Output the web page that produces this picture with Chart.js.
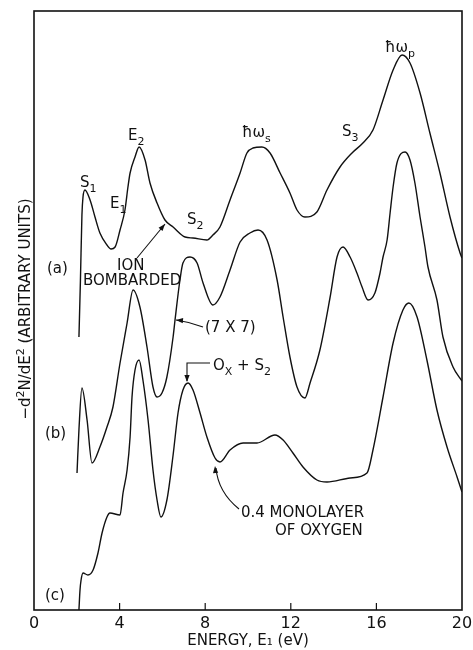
<!DOCTYPE html>
<html>
<head>
<meta charset="utf-8">
<script src="https://cdn.jsdelivr.net/npm/chart.js@4"></script>
<style>
	html, body { margin: 0; padding: 0; background: #fff; }
	#graphSection { position: relative; width: 473px; height: 650px; }
</style>
</head>
<body>
<div id="graphSection"><canvas id="spectraGraph"></canvas></div>
<script>

// energy (eV) and curve height (arbitrary units)
var energyA = [2.10, 2.17, 2.24, 2.29, 2.38, 2.62, 2.85, 3.08, 3.41, 3.60, 3.79, 4.02, 4.25, 4.39, 4.49, 4.72, 4.91, 5.19, 5.42, 5.75, 6.12, 6.50, 7.06, 7.43, 8.08, 8.36, 8.69, 9.16, 9.63, 9.95, 10.23, 10.65, 11.03, 11.50, 11.96, 12.29, 12.66, 13.22, 13.69, 14.30, 14.86, 15.37, 15.84, 16.31, 16.78, 17.20, 17.57, 18.04, 18.50, 18.97, 19.44, 19.91, 20.0];
var valueA  = [273, 330, 395, 413, 420, 410, 393, 377, 365, 361, 363, 380, 400, 423, 437, 453, 463, 450, 427, 407, 390, 383, 373, 372, 370, 375, 383, 410, 437, 457, 462, 463, 457, 437, 417, 400, 393, 398, 420, 443, 457, 467, 480, 510, 540, 555, 547, 517, 477, 437, 393, 357, 352];

var energyB = [2.01, 2.10, 2.24, 2.48, 2.71, 3.08, 3.41, 3.69, 4.02, 4.35, 4.63, 4.95, 5.28, 5.56, 5.75, 5.98, 6.21, 6.50, 6.59, 6.82, 6.96, 7.29, 7.62, 7.90, 8.36, 8.69, 9.16, 9.63, 10.09, 10.47, 10.89, 11.36, 11.64, 11.96, 12.29, 12.66, 12.90, 13.36, 13.83, 14.16, 14.44, 14.77, 15.09, 15.33, 15.61, 15.93, 16.17, 16.31, 16.50, 16.64, 16.78, 16.96, 17.34, 17.57, 17.80, 18.04, 18.27, 18.41, 18.83, 19.11, 19.58, 20.0];
var valueB  = [137, 180, 222, 190, 147, 163, 183, 203, 247, 287, 320, 303, 263, 223, 213, 217, 233, 273, 290, 330, 347, 353, 347, 327, 305, 313, 340, 368, 377, 380, 370, 330, 293, 253, 223, 212, 227, 260, 312, 353, 363, 353, 337, 323, 310, 317, 337, 353, 370, 397, 423, 447, 458, 450, 427, 393, 363, 343, 310, 273, 243, 229];

var energyC = [2.10, 2.15, 2.20, 2.29, 2.52, 2.76, 2.99, 3.18, 3.41, 3.55, 4.02, 4.16, 4.35, 4.49, 4.58, 4.72, 4.91, 5.09, 5.33, 5.56, 5.75, 5.93, 6.21, 6.50, 6.73, 6.96, 7.20, 7.43, 7.76, 8.08, 8.46, 8.69, 9.16, 9.77, 10.42, 11.26, 11.64, 12.10, 12.57, 13.22, 13.69, 14.77, 15.56, 15.84, 16.31, 16.78, 17.24, 17.52, 17.90, 18.36, 18.83, 19.30, 19.77, 20.0];
var valueC  = [0, 20, 30, 37, 35, 40, 57, 77, 93, 97, 95, 117, 140, 173, 213, 240, 250, 230, 190, 140, 110, 93, 110, 155, 197, 220, 227, 220, 197, 173, 152, 148, 160, 167, 167, 175, 170, 157, 143, 130, 128, 132, 137, 160, 213, 267, 300, 307, 293, 250, 200, 163, 133, 118];

var energyTicks = [0, 4, 8, 12, 16, 20];

var FONT = "'DejaVu Sans', sans-serif";
var INK = "#111";

var toPoints = function(xs, ys) {
	var pts = [];
	for (var i = 0; i < xs.length; i++) {
		pts.push({ x: xs[i], y: ys[i] });
	}
	return pts;
};

// text with sub/superscript parts: [["S"], ["1", "sub"]]
var drawRich = function(ctx, x, y, parts, size) {
	for (var i = 0; i < parts.length; i++) {
		var txt = parts[i][0];
		var kind = parts[i][1] || "n";
		var fs = kind === "n" ? size : Math.round(size * 0.75);
		var dy = kind === "sub" ? size * 0.32 : (kind === "sup" ? -size * 0.4 : 0);
		ctx.font = fs + "px " + FONT;
		ctx.fillText(txt, x, y + dy);
		x += ctx.measureText(txt).width;
	}
	return x;
};

var richWidth = function(ctx, parts, size) {
	var w = 0;
	for (var i = 0; i < parts.length; i++) {
		var fs = (parts[i][1] || "n") === "n" ? size : Math.round(size * 0.75);
		ctx.font = fs + "px " + FONT;
		w += ctx.measureText(parts[i][0]).width;
	}
	return w;
};

var arrowHead = function(ctx, fx, fy, tx, ty) {
	var ang = Math.atan2(ty - fy, tx - fx);
	var len = 7, wid = 2.6;
	ctx.beginPath();
	ctx.moveTo(tx, ty);
	ctx.lineTo(tx - len * Math.cos(ang) + wid * Math.sin(ang), ty - len * Math.sin(ang) - wid * Math.cos(ang));
	ctx.lineTo(tx - len * Math.cos(ang) - wid * Math.sin(ang), ty - len * Math.sin(ang) + wid * Math.cos(ang));
	ctx.closePath();
	ctx.fill();
};

var labels = [
	{ x: 80, y: 187, parts: [["S"], ["1", "sub"]] },
	{ x: 110, y: 208, parts: [["E"], ["1", "sub"]] },
	{ x: 128, y: 140, parts: [["E"], ["2", "sub"]] },
	{ x: 187, y: 224, parts: [["S"], ["2", "sub"]] },
	{ x: 242, y: 137, parts: [["\u0127\u03c9"], ["s", "sub"]] },
	{ x: 342, y: 136, parts: [["S"], ["3", "sub"]] },
	{ x: 385, y: 52, parts: [["\u0127\u03c9"], ["p", "sub"]] },
	{ x: 47, y: 273, parts: [["(a)"]] },
	{ x: 117, y: 270, parts: [["ION"]] },
	{ x: 83, y: 285, parts: [["BOMBARDED"]] },
	{ x: 205, y: 332, parts: [["(7 X 7)"]] },
	{ x: 45, y: 438, parts: [["(b)"]] },
	{ x: 213, y: 370, parts: [["O"], ["X", "sub"], [" + S"], ["2", "sub"]] },
	{ x: 241, y: 517, parts: [["0.4 MONOLAYER"]] },
	{ x: 275, y: 535, parts: [["OF OXYGEN"]] },
	{ x: 45, y: 600, parts: [["(c)"]] }
];

var decorations = {
	id: "decorations",
	afterDraw: function(chart) {
		var ctx = chart.ctx;
		var area = chart.chartArea;
		var xs = chart.scales.x;
		ctx.save();
		ctx.strokeStyle = INK;
		ctx.fillStyle = INK;

		// frame
		ctx.lineWidth = 1.6;
		ctx.strokeRect(area.left, area.top, area.right - area.left, area.bottom - area.top);

		// inward tick marks
		ctx.lineWidth = 1.2;
		for (var i = 1; i < energyTicks.length - 1; i++) {
			var px = xs.getPixelForValue(energyTicks[i]);
			ctx.beginPath();
			ctx.moveTo(px, area.bottom);
			ctx.lineTo(px, area.bottom - 7);
			ctx.stroke();
		}

		// y title, rotated
		var yTitle = [["\u2212d"], ["2", "sup"], ["N/dE"], ["2", "sup"], [" (ARBITRARY UNITS)"]];
		ctx.save();
		ctx.translate(30, 309);
		ctx.rotate(-Math.PI / 2);
		ctx.textBaseline = "alphabetic";
		drawRich(ctx, -richWidth(ctx, yTitle, 15) / 2, 0, yTitle, 15);
		ctx.restore();

		// labels
		ctx.textBaseline = "alphabetic";
		labels.forEach(function(l) {
			drawRich(ctx, l.x, l.y, l.parts, 15);
		});

		// arrows
		ctx.lineWidth = 1.1;
		ctx.beginPath();
		ctx.moveTo(137, 258);
		ctx.lineTo(165, 224);
		ctx.stroke();
		arrowHead(ctx, 137, 258, 165, 224);

		ctx.beginPath();
		ctx.moveTo(203, 327);
		ctx.quadraticCurveTo(190, 322, 176, 320);
		ctx.stroke();
		arrowHead(ctx, 188, 321, 176, 320);

		ctx.beginPath();
		ctx.moveTo(210, 363);
		ctx.lineTo(187, 363);
		ctx.lineTo(187, 381);
		ctx.stroke();
		arrowHead(ctx, 187, 370, 187, 382);

		ctx.beginPath();
		ctx.moveTo(239, 509);
		ctx.quadraticCurveTo(218, 492, 216, 468);
		ctx.stroke();
		arrowHead(ctx, 216, 478, 215, 466);

		ctx.restore();
	}
};

var makeSet = function(xs, ys) {
	return {
		data: toPoints(xs, ys),
		borderColor: INK,
		borderWidth: 1.4,
		pointRadius: 0,
		fill: false,
		cubicInterpolationMode: "monotone"
	};
};

var context = document.getElementById("spectraGraph").getContext("2d");
var spectraChart = new Chart(context, {
	type: "line",
	data: {
		datasets: [
			makeSet(energyA, valueA),
			makeSet(energyB, valueB),
			makeSet(energyC, valueC)
		]
	},
	options: {
		responsive: true,
		maintainAspectRatio: false,
		animation: false,
		layout: { padding: { left: 0, right: 11, top: 11, bottom: 0 } },
		plugins: {
			legend: { display: false },
			tooltip: { enabled: false }
		},
		scales: {
			x: {
				type: "linear",
				min: 0,
				max: 20,
				afterFit: function(s) {
					s.height = 40;
					s.paddingLeft = 0;
					s.paddingRight = 0;
				},
				afterBuildTicks: function(s) {
					s.ticks = energyTicks.map(function(v) { return { value: v }; });
				},
				ticks: {
					font: { family: FONT, size: 16 },
					color: INK,
					padding: 4,
					maxRotation: 0,
					autoSkip: false
				},
				grid: { display: false, drawTicks: false },
				border: { display: false },
				title: {
					display: true,
					text: "ENERGY, E\u2081 (eV)",
					font: { family: FONT, size: 15 },
					color: INK,
					padding: { top: 0, bottom: 0 }
				}
			},
			y: {
				min: 0,
				max: 599,
				afterFit: function(s) { s.width = 34; },
				ticks: { display: false },
				grid: { display: false, drawTicks: false },
				border: { display: false }
			}
		}
	},
	plugins: [decorations]
});

</script>
</body>
</html>
